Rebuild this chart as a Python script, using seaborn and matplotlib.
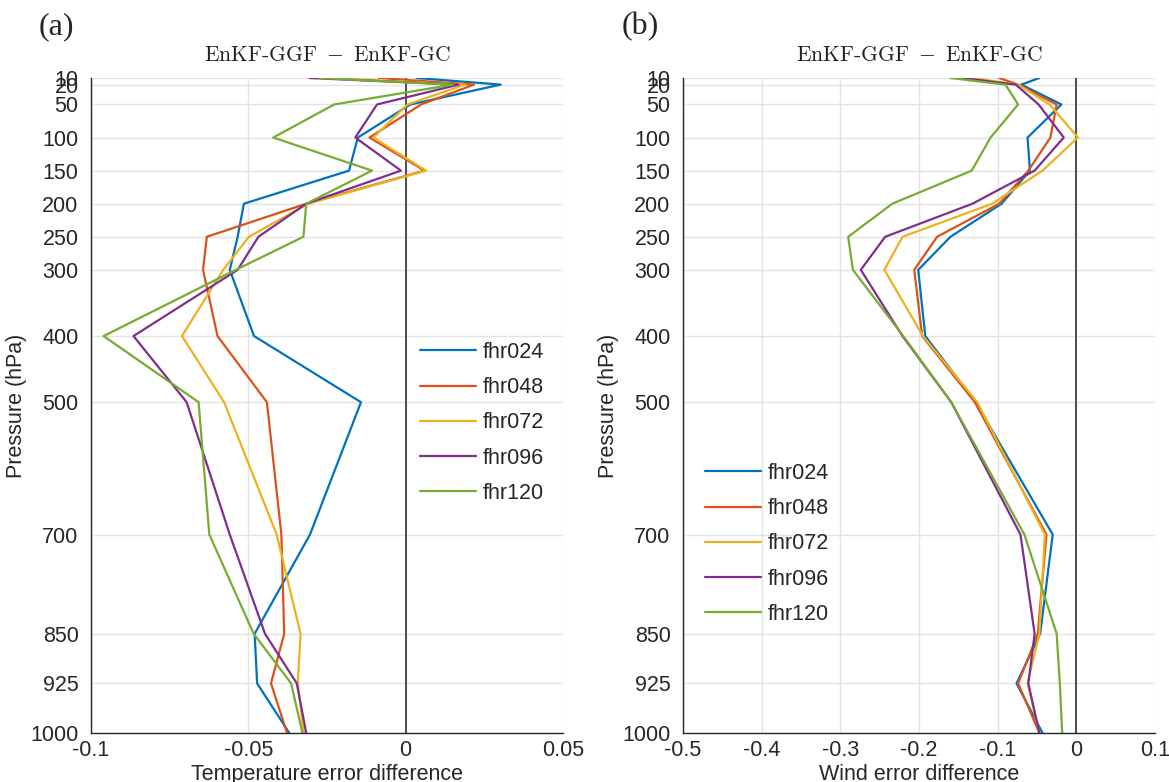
import matplotlib
matplotlib.use("Agg")
import matplotlib.pyplot as plt
import seaborn as sns
import pandas as pd
import numpy as np

levels = [10, 20, 50, 100, 150, 200, 250, 300, 400, 500, 700, 850, 925, 1000]
series_names = ["fhr024", "fhr048", "fhr072", "fhr096", "fhr120"]

temp_fhr024 = [0.0034, 0.0302, 0.0015, -0.0152, -0.0180, -0.0514, -0.0534, -0.0559, -0.0482, -0.0142, -0.0304, -0.0480, -0.0472, -0.0370]
temp_fhr048 = [-0.0085, 0.0217, 0.0049, -0.0115, 0.0060, -0.0316, -0.0632, -0.0644, -0.0598, -0.0441, -0.0395, -0.0386, -0.0428, -0.0377]
temp_fhr072 = [-0.0240, 0.0188, 0.0006, -0.0103, 0.0065, -0.0310, -0.0498, -0.0580, -0.0711, -0.0577, -0.0410, -0.0334, -0.0343, -0.0324]
temp_fhr096 = [-0.0305, 0.0168, -0.0091, -0.0160, -0.0015, -0.0316, -0.0468, -0.0534, -0.0865, -0.0696, -0.0559, -0.0447, -0.0346, -0.0316]
temp_fhr120 = [-0.0276, 0.0150, -0.0227, -0.0421, -0.0107, -0.0316, -0.0325, -0.0540, -0.0960, -0.0658, -0.0624, -0.0483, -0.0364, -0.0328]

wind_fhr024 = [-0.047, -0.070, -0.019, -0.062, -0.059, -0.095, -0.160, -0.201, -0.192, -0.128, -0.030, -0.046, -0.076, -0.043]
wind_fhr048 = [-0.098, -0.074, -0.025, -0.033, -0.061, -0.098, -0.177, -0.206, -0.196, -0.129, -0.038, -0.049, -0.074, -0.047]
wind_fhr072 = [-0.133, -0.074, -0.034, 0.002, -0.043, -0.107, -0.221, -0.244, -0.195, -0.126, -0.040, -0.047, -0.062, -0.047]
wind_fhr096 = [-0.145, -0.077, -0.048, -0.016, -0.053, -0.132, -0.243, -0.274, -0.221, -0.159, -0.071, -0.053, -0.061, -0.047]
wind_fhr120 = [-0.160, -0.090, -0.074, -0.109, -0.133, -0.234, -0.290, -0.284, -0.220, -0.159, -0.066, -0.025, -0.021, -0.018]

temp_ticks = [-0.1, -0.05, 0, 0.05]
temp_ticklabels = ["-0.1", "-0.05", "0", "0.05"]
wind_ticks = [-0.5, -0.4, -0.3, -0.2, -0.1, 0, 0.1]
wind_ticklabels = ["-0.5", "-0.4", "-0.3", "-0.2", "-0.1", "0", "0.1"]

colors = ["#0072BD", "#D95319", "#EDB120", "#7E2F8E", "#77AC30"]

def long_df(arrs):
    rows = []
    for name, arr in zip(series_names, arrs):
        for p, v in zip(levels, arr):
            rows.append({"series": name, "pressure": p, "value": v})
    return pd.DataFrame(rows)

df_t = long_df([temp_fhr024, temp_fhr048, temp_fhr072, temp_fhr096, temp_fhr120])
df_w = long_df([wind_fhr024, wind_fhr048, wind_fhr072, wind_fhr096, wind_fhr120])

sns.set_theme(style="white")
plt.rcParams["font.family"] = ["Liberation Sans", "DejaVu Sans"]
plt.rcParams["mathtext.fontset"] = "cm"

W, H = 1169, 782
fig = plt.figure(figsize=(W / 100, H / 100), dpi=100)
ax_a = fig.add_axes([91 / W, (H - 733) / H, 472 / W, 655 / H])
ax_b = fig.add_axes([683 / W, (H - 733) / H, 472 / W, 655 / H])

palette = dict(zip(series_names, colors))

def style_axis(ax, df, xlim, ticks, ticklabels, xlabel, legend_anchor):
    sns.lineplot(data=df, x="value", y="pressure", hue="series", palette=palette,
                 estimator=None, orient="y", sort=True, linewidth=1.6, ax=ax, legend=True)
    ax.set_xlim(*xlim)
    ax.set_ylim(1000, 10)
    ax.set_yticks(levels)
    ax.set_yticklabels([str(l) for l in levels])
    ax.set_xticks(ticks)
    ax.set_xticklabels(ticklabels)
    ax.grid(True, color="#e3e3e3", linewidth=1.0)
    ax.set_axisbelow(True)
    ax.axvline(0, color="#4d4d4d", linewidth=1.4, zorder=1)
    for s in ["top", "right"]:
        ax.spines[s].set_visible(False)
    for s in ["left", "bottom"]:
        ax.spines[s].set_color("#262626")
        ax.spines[s].set_linewidth(1.0)
    ax.tick_params(axis="both", direction="in", length=5, width=1.0, color="#262626",
                   labelsize=15.5, labelcolor="#262626")
    ax.tick_params(axis="y", pad=9)
    ax.tick_params(axis="x", pad=5)
    ax.set_xlabel(xlabel, fontsize=15.5, color="#262626", labelpad=2)
    ax.set_ylabel("Pressure (hPa)", fontsize=15.5, color="#262626", labelpad=2)
    ax.set_title(r"$\text{EnKF-GGF}\ -\ \text{EnKF-GC}$", fontsize=15.5, pad=12, color="#222222")
    handles, labels = ax.get_legend_handles_labels()
    ax.legend(handles, labels, loc="upper left", bbox_to_anchor=legend_anchor,
              frameon=False, fontsize=15.5, handlelength=2.6, handletextpad=0.3,
              labelspacing=0.66, borderpad=0, borderaxespad=0)

style_axis(ax_a, df_t, (-0.1, 0.05), temp_ticks, temp_ticklabels,
           "Temperature error difference", ((420 - 91) / 472, (733 - 342) / 655))
style_axis(ax_b, df_w, (-0.5, 0.1), wind_ticks, wind_ticklabels,
           "Wind error difference", ((705 - 683) / 472, (733 - 463) / 655))

fig.text(56 / W, 1 - 27 / H, "(a)", fontsize=23, family="Liberation Serif", ha="center", va="center")
fig.text(640 / W, 1 - 27 / H, "(b)", fontsize=23, family="Liberation Serif", ha="center", va="center")

fig.savefig("out.png", dpi=100)
